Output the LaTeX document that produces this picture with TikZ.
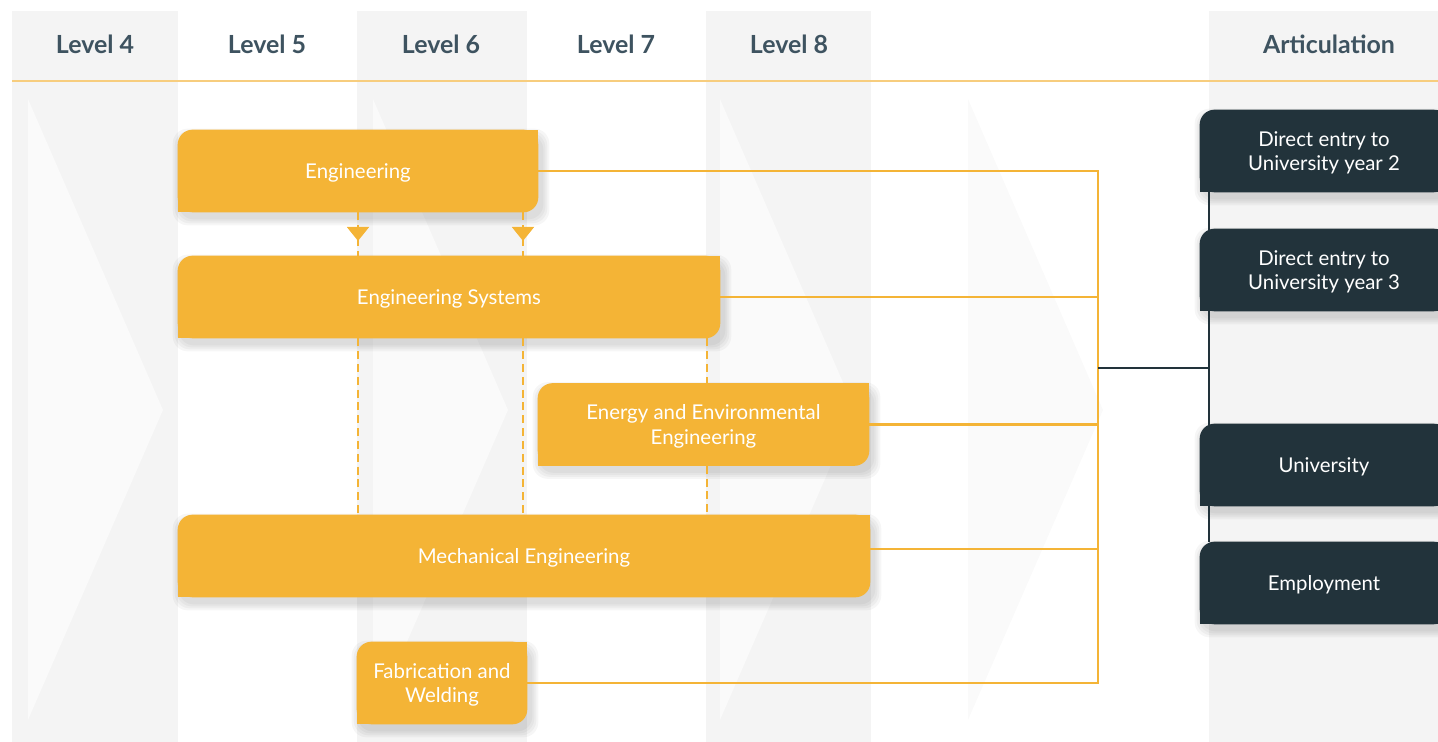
\documentclass[tikz,border=0pt]{standalone}
\usepackage{fontspec}
\setmainfont{Lato}
\usetikzlibrary{positioning,calc,arrows.meta,decorations.markings}

\definecolor{cityorange}{HTML}{F4B436}
\definecolor{citydark}{HTML}{22333B}
\definecolor{cityhead}{HTML}{3E5360}
\definecolor{bandgrey}{HTML}{F4F4F4}
\definecolor{chevgrey}{HTML}{FAFAFA}
\definecolor{headline}{HTML}{F7CD7E}

\pgfdeclarelayer{bands}
\pgfdeclarelayer{boxes}
\pgfsetlayers{bands,boxes,main}

\begin{document}
\begin{tikzpicture}[x=0.02cm, y=-0.02cm,
  level/.style={text=cityhead, font=\fontsize{14.2}{17}\selectfont\bfseries},
  course/.style={inner sep=0pt, text=white, align=center, text depth=0pt, minimum height=1.64cm, font=\fontsize{11.6}{13.7}\selectfont},
  route/.style={course},
  link/.style={cityorange, line width=1.3pt, line cap=rect},
  darklink/.style={citydark, line width=1.3pt},
  pathway/.style={cityorange, line width=1.2pt, dash pattern=on 4.5pt off 2.8pt},
  arrowmid/.style={postaction={decorate, decoration={markings, mark=at position 0.66 with {\arrow{Triangle[width=0.44cm,length=0.28cm]}}}}}
]
\useasboundingbox (0,0) rectangle (1438,742);

\begin{pgfonlayer}{bands}
\foreach \a/\b in {12/178,357/527,706/871,1209/1438}
  \fill[bandgrey] (\a,11) rectangle (\b,742);
\foreach \a in {28,373,720,968}
  \fill[chevgrey] (\a,99) -- (\a+135,410) -- (\a,720) -- cycle;
\draw[headline, line width=0.85pt] (12,81) -- (1438,81);
\end{pgfonlayer}

% column heads
\foreach \lv/\x in {4/95,5/267,6/441,7/616,8/789}
  \node[level] (lv\lv) at (\x,44) {Level \lv};
\node[level] (art) at (1329,44) {Articulation};

% courses
\node[course, minimum width=7.2cm] (eng) at (358,171) {Engineering};
\node[course, minimum width=10.84cm] (engsys) at (449,297) {Engineering Systems};
\node[course, minimum width=6.62cm] (energy) at (703.5,424.5) {Energy and Environmental\\Engineering};
\node[course, minimum width=13.84cm] (mech) at (524,556) {Mechanical Engineering};
\node[course, minimum width=3.4cm] (fab) at (442,683) {Fabrication and\\Welding};

% articulation
\node[route, minimum width=4.96cm] (uni2) at (1324,151) {Direct entry to\\University year 2};
\node[route, minimum width=4.96cm] (uni3) at (1324,270) {Direct entry to\\University year 3};
\node[route, minimum width=4.96cm] (uni) at (1324,465) {University};
\node[route, minimum width=4.96cm] (job) at (1324,583) {Employment};

\begin{pgfonlayer}{boxes}
\foreach \n in {eng,engsys,energy,mech,fab,uni2,uni3,uni,job}
  \foreach \s in {1,...,4}
    \fill[black, opacity=0.035, rounded corners=0.3cm] ([shift={(3-2*\s,7-2*\s)}]\n.north west) rectangle ([shift={(3+2*\s,5+2*\s)}]\n.south east);
\foreach \n in {eng,engsys,energy,mech,fab} {
  \fill[cityorange, rounded corners=0.3cm] (\n.south west) rectangle (\n.north east);
  \fill[cityorange] (\n.north) rectangle (\n.east);
  \fill[cityorange] (\n.west) rectangle (\n.south);
}
\foreach \n in {uni2,uni3,uni,job} {
  \fill[citydark, rounded corners=0.3cm] (\n.south west) rectangle (\n.north east);
  \fill[citydark] (\n.north) rectangle (\n.east);
  \fill[citydark] (\n.west) rectangle (\n.south east);
}
\end{pgfonlayer}

\coordinate (c6) at (358,0);
\coordinate (c6r) at (523,0);
\coordinate (c8) at (707,0);
\coordinate (bus) at (1098,368);
\coordinate (spine) at (1209,368);

\draw[pathway, arrowmid] (eng.south -| c6) -- (engsys.north -| c6);
\draw[pathway, arrowmid] (eng.south -| c6r) -- (engsys.north -| c6r);
\draw[pathway] (engsys.south -| c6) -- (mech.north -| c6);
\draw[pathway] (engsys.south -| c6r) -- (mech.north -| c6r);
\draw[pathway] (engsys.south -| c8) -- (energy.north -| c8);
\draw[pathway] (energy.south -| c8) -- (mech.north -| c8);

\foreach \n in {eng,engsys,energy,fab}
  \draw[link] (\n.east) -- (\n.east -| bus);
\draw[link] ([yshift=4pt]mech.east) coordinate (m) -- (m -| bus);
\draw[link] (eng.east -| bus) -- (fab.east -| bus);

\draw[darklink] (bus) -- (spine);
\draw[darklink] (uni2.south -| spine) -- (job.north -| spine);
\end{tikzpicture}
\end{document}
